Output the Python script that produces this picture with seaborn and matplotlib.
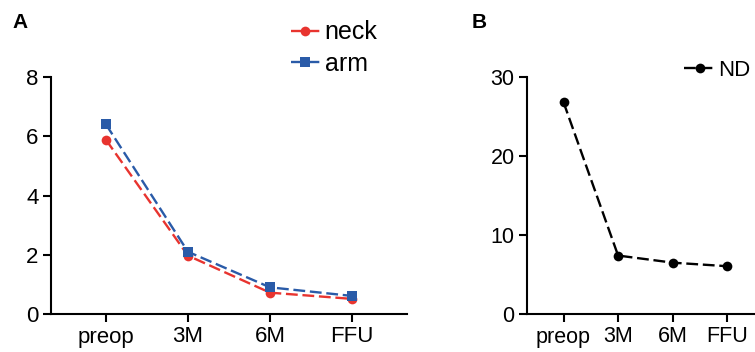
import matplotlib
matplotlib.use("Agg")
import matplotlib.pyplot as plt
import seaborn as sns
import pandas as pd
import numpy as np

categories = ["preop", "3M", "6M", "FFU"]
neck = [5.88, 1.97, 0.72, 0.51]
arm = [6.40, 2.10, 0.90, 0.61]
nd = [26.8, 7.4, 6.5, 6.05]
yticks_a = [0, 2, 4, 6, 8]
yticks_b = [0, 10, 20, 30]

sns.set_theme(style="ticks")
plt.rcParams['font.family'] = ['Liberation Sans', 'DejaVu Sans']
plt.rcParams['text.color'] = 'black'

RED = "#E8342F"
BLUE = "#2A5BA8"

fig = plt.figure(figsize=(7.55, 3.52), dpi=100)
axA = fig.add_axes([51/755, 1-314/352, (407-51)/755, (314-77)/352])
axB = fig.add_axes([527/755, 1-314/352, (755-527)/755, (314-77)/352])

x = np.arange(len(categories))
dash = (5, 2)
dfA = pd.DataFrame({"x": np.concatenate([x, x]),
                    "y": neck + arm,
                    "series": ["neck"]*4 + ["arm"]*4})
sns.lineplot(data=dfA, x="x", y="y", hue="series", style="series",
             palette={"neck": RED, "arm": BLUE},
             markers={"neck": "o", "arm": "s"},
             dashes={"neck": dash, "arm": dash},
             markersize=7, linewidth=1.7, markeredgewidth=0, ax=axA)

dfB = pd.DataFrame({"x": x, "y": nd, "series": ["ND"]*4})
sns.lineplot(data=dfB, x="x", y="y", hue="series", style="series",
             palette={"ND": "black"}, markers={"ND": "o"},
             dashes={"ND": dash},
             markersize=7, linewidth=1.7, markeredgewidth=0, ax=axB)

for ax, yt, ymax, fs in [(axA, yticks_a, 8, 16), (axB, yticks_b, 30, 15.5)]:
    ax.set_xlim(-0.67, 3.67 if ax is axA else 3.51)
    ax.set_ylim(0, ymax)
    ax.set_yticks(yt)
    ax.set_xticks(x)
    ax.set_xticklabels(categories)
    ax.set_xlabel("")
    ax.set_ylabel("")
    for s in ["top", "right"]:
        ax.spines[s].set_visible(False)
    for s in ["left", "bottom"]:
        ax.spines[s].set_linewidth(1.5)
        ax.spines[s].set_color("black")
    ax.tick_params(axis="both", length=6, width=1.5, color="black",
                   labelsize=fs, labelcolor="black", pad=3)

hA, lA = axA.get_legend_handles_labels()
legA = axA.legend(hA, lA, loc="center left", bbox_to_anchor=(291/755, 1-48/352),
                  bbox_transform=fig.transFigure, frameon=False, fontsize=18,
                  handlelength=1.15, handletextpad=0.2, labelspacing=0.3,
                  borderpad=0, borderaxespad=0)
hB, lB = axB.get_legend_handles_labels()
legB = axB.legend(hB, lB, loc="center left", bbox_to_anchor=(684/755, 1-70/352),
                  bbox_transform=fig.transFigure, frameon=False, fontsize=16,
                  handlelength=1.4, handletextpad=0.12, borderpad=0, borderaxespad=0)
for leg in (legA, legB):
    for t in leg.get_texts():
        t.set_color("black")

fig.text(12/755, 1-22/352, "A", fontsize=15, fontweight="bold", va="center", ha="left", color="black")
fig.text(472/755, 1-22/352, "B", fontsize=15, fontweight="bold", va="center", ha="left", color="black")

fig.savefig("out.png", dpi=100)
